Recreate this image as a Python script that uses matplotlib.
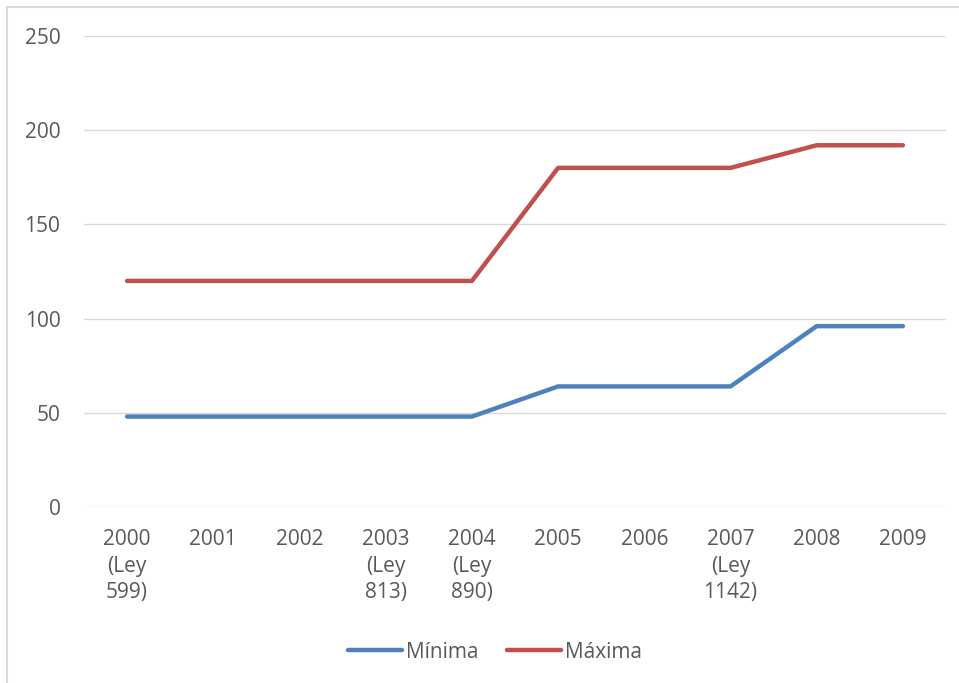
import matplotlib
matplotlib.use("Agg")
import matplotlib.pyplot as plt
from matplotlib.lines import Line2D

categories = ["2000\n(Ley\n599)", "2001", "2002", "2003\n(Ley\n813)", "2004\n(Ley\n890)",
              "2005", "2006", "2007\n(Ley\n1142)", "2008", "2009"]
minima = [48, 48, 48, 48, 48, 64, 64, 64, 96, 96]
maxima = [120, 120, 120, 120, 120, 180, 180, 180, 192, 192]
yticks = [0, 50, 100, 150, 200, 250]

plt.rcParams['font.family'] = ['Open Sans', 'DejaVu Sans']
txt = '#595959'
fs = 15

fig = plt.figure(figsize=(9.59, 6.83), dpi=100)
W, H = 959, 683
ax = fig.add_axes([84 / W, 1 - 507 / H, (946 - 84) / W, (507 - 36) / H])

x = list(range(len(categories)))
ax.plot(x, minima, color='#4F81BD', lw=3.2, solid_capstyle='round', label='Mínima')
ax.plot(x, maxima, color='#C0504D', lw=3.2, solid_capstyle='round', label='Máxima')

ax.set_xlim(-0.5, len(categories) - 0.5)
ax.set_ylim(0, 250)
ax.set_yticks(yticks)
ax.set_yticklabels([str(v) for v in yticks])
ax.set_xticks(x)
ax.set_xticklabels(categories, linespacing=1.35)
ax.tick_params(axis='both', length=0, colors=txt, labelsize=fs)
ax.tick_params(axis='y', pad=17)
ax.tick_params(axis='x', pad=16)
ax.grid(axis='y', color='#D9D9D9', lw=1)
ax.set_axisbelow(True)
for s in ax.spines.values():
    s.set_visible(False)

leg = fig.legend(loc='center', bbox_to_anchor=(495 / W, 1 - 652 / H), ncol=2, frameon=False,
                 fontsize=fs, handlelength=2.6, columnspacing=1.35, handletextpad=0.2)
for t in leg.get_texts():
    t.set_color(txt)

# outer border (left and top visible)
fig.add_artist(Line2D([6.5 / W, 6.5 / W], [0, 1 - 6.5 / H], transform=fig.transFigure, color='#D9D9D9', lw=1.5))
fig.add_artist(Line2D([6.5 / W, 1], [1 - 6.5 / H, 1 - 6.5 / H], transform=fig.transFigure, color='#D9D9D9', lw=1.5))

fig.savefig('out.png', dpi=100)
